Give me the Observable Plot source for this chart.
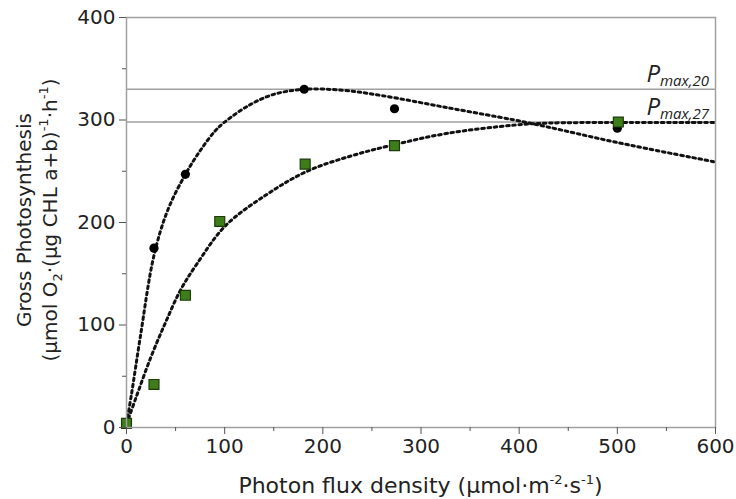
<!DOCTYPE html>
<html>
<head>
<meta charset="utf-8">
<script src="https://cdn.jsdelivr.net/npm/d3@7"></script>
<script src="https://cdn.jsdelivr.net/npm/@observablehq/plot@0.6"></script>
<style>
  html, body { margin: 0; padding: 0; background: #fff; }
  #chart svg { display: block; }
</style>
</head>
<body>
<div id="chart"></div>
<script>
// ---- data ----
const pfd20 = [0, 28, 60, 181, 273, 500];          // black circles
const gp20  = [5, 175, 247, 330, 311, 292];
const pfd27 = [0, 28, 60, 95, 182, 273, 501];      // green squares
const gp27  = [4, 42, 129, 201, 257, 275, 298];

// fitted curves, read as points off the picture
const fit20x = [0, 5, 14, 28, 42, 60, 75, 90, 100, 126, 150, 181, 220, 259, 327, 395, 430, 500, 600];
const fit20y = [4, 32, 88, 168, 212, 247, 270, 289, 298, 315, 325, 330, 329, 324, 312, 300, 293, 278, 259];
const fit27x = [0, 10, 25, 40, 55, 72, 101, 144, 184, 229, 273, 327, 395, 430, 500, 600];
const fit27y = [3, 30, 69, 103, 134, 160, 197, 228, 250, 265, 276, 287, 295, 297, 297.5, 297.5];

const pmaxValues = [330, 298];
const pmaxSuffix = ["max,20", "max,27"];

const xTicks = [0, 100, 200, 300, 400, 500, 600];
const xMinor = [50, 150, 250, 350, 450, 550];
const yTicks = [0, 100, 200, 300, 400];
const yMinor = [50, 150, 250, 350];

const toPts = (xs, ys) => xs.map((x, i) => ({x, y: ys[i]}));
const pts20 = toPts(pfd20, gp20);
const pts27 = toPts(pfd27, gp27);
const curve20 = toPts(fit20x, fit20y);
const curve27 = toPts(fit27x, fit27y);

const font = "DejaVu Sans, Verdana, sans-serif";
const axisColor = "#555";
const dotted = {x: "x", y: "y", curve: "catmull-rom", stroke: "#111", strokeWidth: 3, strokeDasharray: "2.6,3.6"};

const plot = Plot.plot({
  width: 736,
  height: 499,
  marginLeft: 126,
  marginRight: 21,
  marginTop: 17,
  marginBottom: 72,
  style: {fontFamily: font, fontSize: "20px", color: "#222", background: "#fff"},
  x: {domain: [0, 600]},
  y: {domain: [0, 400]},
  marks: [
    Plot.ruleY(pmaxValues, {stroke: "#a0a0a0", strokeWidth: 1.5}),
    Plot.line(curve27, dotted),
    Plot.line(curve20, dotted),
    Plot.dot(pts20, {x: "x", y: "y", r: 4.6, fill: "#000"}),
    Plot.dot(pts27, {x: "x", y: "y", symbol: "square", r: 5.6, fill: "#3d7d1a", stroke: "#1e3a0c", strokeWidth: 1.2}),
    Plot.frame({stroke: "#a0a0a0", strokeWidth: 1.5}),
    Plot.axisX(xTicks, {tickSize: 7, tickPadding: 4, label: null, stroke: axisColor, fontSize: 20, fill: "#222"}),
    Plot.axisX(xMinor, {tickSize: 4, tickFormat: () => "", label: null, stroke: axisColor}),
    Plot.axisY(yTicks, {tickSize: 7, tickPadding: 4, label: null, stroke: axisColor, fontSize: 20, fill: "#222"}),
    Plot.axisY(yMinor, {tickSize: 4, tickFormat: () => "", label: null, stroke: axisColor})
  ]
});

document.getElementById("chart").appendChild(plot);

const svg = d3.select(plot);
const xs = plot.scale("x"), ys = plot.scale("y");
const cx = (xs.apply(0) + xs.apply(600)) / 2;
const cy = (ys.apply(0) + ys.apply(400)) / 2 - 2;

// y-axis title (two lines)
svg.append("text")
  .attr("transform", `translate(31,${cy}) rotate(-90)`)
  .attr("text-anchor", "middle")
  .attr("font-family", font).attr("font-size", 20).attr("fill", "#222")
  .text("Gross Photosynthesis");
const yt2 = svg.append("text")
  .attr("transform", `translate(57,${cy}) rotate(-90)`)
  .attr("text-anchor", "middle")
  .attr("font-family", font).attr("font-size", 20).attr("fill", "#222");
yt2.append("tspan").text("(µmol O");
yt2.append("tspan").attr("dy", 5).attr("font-size", 13).text("2");
yt2.append("tspan").attr("dy", -5).text("·(µg CHL a+b)");
yt2.append("tspan").attr("dy", -9).attr("font-size", 13).text("-1");
yt2.append("tspan").attr("dy", 9).text("·h");
yt2.append("tspan").attr("dy", -9).attr("font-size", 13).text("-1");
yt2.append("tspan").attr("dy", 9).text(")");

// x-axis title
const xt = svg.append("text")
  .attr("x", cx).attr("y", 493)
  .attr("text-anchor", "middle")
  .attr("font-family", font).attr("font-size", 22).attr("fill", "#222");
xt.append("tspan").text("Photon flux density (µmol·m");
xt.append("tspan").attr("dy", -9).attr("font-size", 13).text("-2");
xt.append("tspan").attr("dy", 9).text("·s");
xt.append("tspan").attr("dy", -9).attr("font-size", 13).text("-1");
xt.append("tspan").attr("dy", 9).text(")");

// Pmax labels
pmaxValues.forEach((v, i) => {
  const t = svg.append("text")
    .attr("x", xs.apply(600) - 6)
    .attr("y", ys.apply(v) - 7)
    .attr("text-anchor", "end")
    .attr("font-family", "Open Sans, DejaVu Sans, sans-serif")
    .attr("font-style", "italic")
    .attr("fill", "#222");
  t.append("tspan").attr("font-size", 24).text("P");
  t.append("tspan").attr("font-size", 15).attr("dy", 4).text(pmaxSuffix[i]);
});
</script>
</body>
</html>
